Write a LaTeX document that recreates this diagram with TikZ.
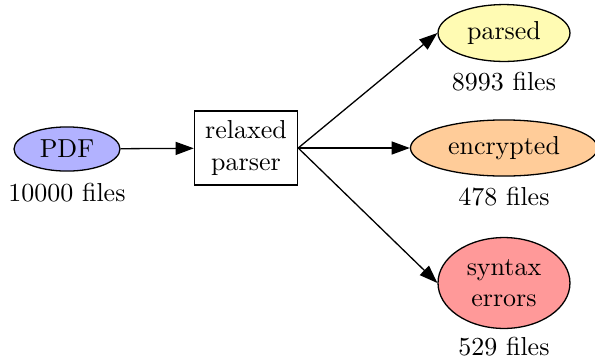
\documentclass[tikz,border=0pt]{standalone}
\usetikzlibrary{shapes.geometric,arrows.meta}

\tikzset{every picture/.style={line width=0.5pt}}
\tikzset{
  blob/.style={ellipse,draw,inner sep=0pt,align=center},
  stage/.style={rectangle,draw,inner sep=0pt,align=center},
  flow/.style={-{Triangle[length=7pt,width=5pt]}},
}

\begin{document}
\begin{tikzpicture}[x=0.385pt,y=0.385pt,yscale=-1,xscale=1]
\useasboundingbox (0,0) rectangle (595,362);

%Shape: Ellipse [id:pdf]
\node [blob,fill=blue!30,minimum width=40.8pt,minimum height=17pt] (pdf) at (67,149) {PDF};
%Shape: Rectangle [id:parser]
\node [stage,minimum width=39.7pt,minimum height=28.5pt] (parser) at (246,148) {relaxed\\parser};
%Shape: Ellipse [id:parsed]
\node [blob,fill=yellow!30,minimum width=50.8pt,minimum height=21.9pt] (parsed) at (504,33) {parsed};
%Shape: Ellipse [id:encrypted]
\node [blob,fill=orange!40,minimum width=72pt,minimum height=21.6pt] (encrypted) at (504,148) {encrypted};
%Shape: Ellipse [id:errors]
\node [blob,fill=red!40,minimum width=50.8pt,minimum height=35pt] (errors) at (504,283) {syntax\\errors};

%Straight Lines
\draw [flow] (pdf) -- (parser);
\draw [flow] (parser.east) -- (parsed.west);
\draw [flow] (parser.east) -- (encrypted.west);
\draw [flow] (parser.east) -- (errors.west);

% Text Node
\node (npdf) at (67,193) {10000 files};
% Text Node
\node (nparsed) at (504,82) {8993 files};
% Text Node
\node (nencrypted) at (504,197) {478 files};
% Text Node
\node (nerrors) at (504,347) {529 files};

\end{tikzpicture}
\end{document}
